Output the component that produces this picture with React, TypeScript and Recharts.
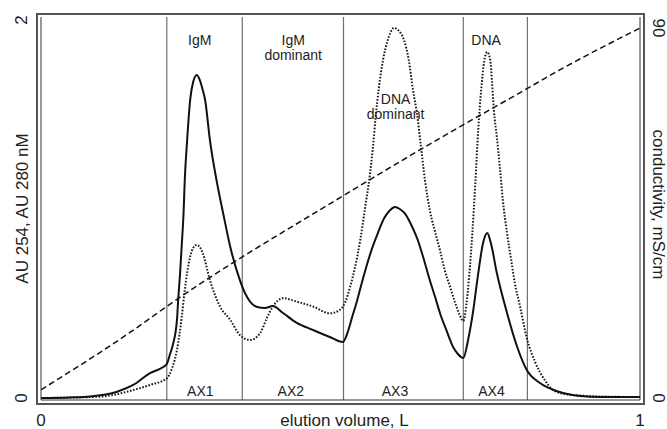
import React from 'react';
import { ComposedChart, Line, Scatter, XAxis, YAxis, ReferenceLine } from 'recharts';

// ---- data (elution volume in L, absorbance in AU, conductivity in mS/cm) ----
const au280: [number, number][] = [
  [0, 0], [0.048, 0.003], [0.082, 0.008], [0.127, 0.033], [0.154, 0.069],
  [0.182, 0.132], [0.204, 0.164], [0.21, 0.18], [0.215, 0.228], [0.22, 0.28],
  [0.227, 0.413], [0.229, 0.519], [0.232, 0.651], [0.235, 0.81], [0.238, 0.979],
  [0.24, 1.153], [0.244, 1.365], [0.249, 1.577], [0.254, 1.672], [0.26, 1.709],
  [0.265, 1.683], [0.27, 1.63], [0.274, 1.577], [0.282, 1.365], [0.293, 1.153],
  [0.304, 0.979], [0.316, 0.799], [0.332, 0.624], [0.344, 0.534], [0.361, 0.481],
  [0.374, 0.476], [0.387, 0.487], [0.404, 0.45], [0.427, 0.397], [0.454, 0.36],
  [0.482, 0.323], [0.504, 0.296], [0.511, 0.339], [0.519, 0.423], [0.528, 0.519],
  [0.536, 0.614], [0.544, 0.704], [0.553, 0.794], [0.563, 0.878], [0.573, 0.952],
  [0.583, 0.995], [0.591, 1.011], [0.599, 1.0], [0.608, 0.974], [0.619, 0.91],
  [0.629, 0.836], [0.638, 0.746], [0.649, 0.624], [0.658, 0.534], [0.666, 0.45],
  [0.678, 0.349], [0.688, 0.27], [0.696, 0.233], [0.705, 0.212], [0.713, 0.307],
  [0.721, 0.45], [0.73, 0.661], [0.738, 0.82], [0.745, 0.873], [0.751, 0.82],
  [0.761, 0.661], [0.778, 0.45], [0.795, 0.27], [0.811, 0.148], [0.833, 0.079],
  [0.866, 0.032], [0.9, 0.011], [0.933, 0.005], [1.0, 0.005],
];

const au254: [number, number][] = [
  [0, 0], [0.098, 0.007], [0.154, 0.042], [0.182, 0.069], [0.21, 0.104],
  [0.219, 0.159], [0.227, 0.254], [0.235, 0.43], [0.24, 0.571], [0.249, 0.748],
  [0.254, 0.794], [0.26, 0.81], [0.265, 0.799], [0.27, 0.767], [0.282, 0.624],
  [0.299, 0.483], [0.316, 0.413], [0.332, 0.333], [0.349, 0.307], [0.366, 0.344],
  [0.377, 0.423], [0.387, 0.483], [0.404, 0.528], [0.427, 0.51], [0.455, 0.483],
  [0.482, 0.448], [0.499, 0.466], [0.508, 0.508], [0.516, 0.587], [0.524, 0.688],
  [0.533, 0.836], [0.541, 1.005], [0.549, 1.18], [0.554, 1.323], [0.559, 1.497],
  [0.564, 1.64], [0.571, 1.788], [0.578, 1.884], [0.583, 1.931], [0.589, 1.958],
  [0.596, 1.947], [0.606, 1.894], [0.614, 1.788], [0.621, 1.63], [0.628, 1.497],
  [0.634, 1.339], [0.641, 1.153], [0.649, 0.995], [0.658, 0.878], [0.666, 0.783],
  [0.674, 0.677], [0.683, 0.587], [0.691, 0.508], [0.699, 0.439], [0.705, 0.407],
  [0.71, 0.492], [0.715, 0.651], [0.72, 0.868], [0.725, 1.132], [0.73, 1.423],
  [0.735, 1.635], [0.74, 1.783], [0.745, 1.831], [0.75, 1.788], [0.753, 1.672],
  [0.756, 1.524], [0.761, 1.381], [0.766, 1.222], [0.771, 1.048], [0.778, 0.873],
  [0.785, 0.73], [0.791, 0.608], [0.8, 0.481], [0.811, 0.317], [0.825, 0.19],
  [0.841, 0.095], [0.855, 0.042], [0.875, 0.021], [0.9, 0.013], [0.933, 0.008],
  [1.0, 0.005],
];

const conductivity: [number, number][] = [
  [0, 2.0], [0.149, 16.0], [0.22, 23.3], [0.5, 48.8], [0.666, 63.2],
  [0.8, 74.3], [0.866, 79.8], [1.0, 90],
];

const fractionBounds = [0.21, 0.336, 0.505, 0.705, 0.812];
const volumeTicks = [0, 1];
const auTicks = [0, 2];
const condTicks = [0, 90];

const peakLabels = [
  { x: 0.265, y: 1.87, text: 'IgM' },
  { x: 0.421, y: 1.868, text: 'IgM' },
  { x: 0.421, y: 1.79, text: 'dominant' },
  { x: 0.592, y: 1.556, text: 'DNA' },
  { x: 0.592, y: 1.478, text: 'dominant' },
  { x: 0.743, y: 1.868, text: 'DNA' },
];
const fractionLabels = [
  { x: 0.266, y: 0.013, text: 'AX1' },
  { x: 0.417, y: 0.013, text: 'AX2' },
  { x: 0.591, y: 0.013, text: 'AX3' },
  { x: 0.752, y: 0.013, text: 'AX4' },
];

// ---- layout / style ----
const W = 667;
const H = 429;
const FONT = '"Liberation Sans", Arial, Helvetica, sans-serif';
const TXT = '#222';
const FRAME = '#333';
const AXIS_FS = 17;
const NOTE_FS = 14;
const LEFT_TEXT_X = 22;
const RIGHT_TEXT_X = 658;
const BOTTOM_BASELINE = 425.5;

const toRows = (pts: [number, number][]) => pts.map(([x, y]) => ({ x, y }));

const LeftTick = (props: any) => {
  const { y, payload } = props;
  return (
    <text x={LEFT_TEXT_X} y={y} transform={`rotate(-90 ${LEFT_TEXT_X} ${y})`} textAnchor="middle"
      dominantBaseline="central" fontSize={AXIS_FS} fill={TXT} fontFamily={FONT}>{payload.value}</text>
  );
};
const RightTick = (props: any) => {
  const { y, payload } = props;
  return (
    <text x={RIGHT_TEXT_X} y={y} transform={`rotate(90 ${RIGHT_TEXT_X} ${y})`} textAnchor="middle"
      dominantBaseline="central" fontSize={AXIS_FS} fill={TXT} fontFamily={FONT}>{payload.value}</text>
  );
};
const BottomTick = (props: any) => {
  const { x, payload } = props;
  return (
    <text x={x} y={BOTTOM_BASELINE} textAnchor="middle" fontSize={AXIS_FS} fill={TXT} fontFamily={FONT}>{payload.value}</text>
  );
};

const LeftTitle = (props: any) => {
  const vb = props.viewBox || { y: 17, height: 383 };
  const cy = vb.y + vb.height / 2;
  return (
    <text x={LEFT_TEXT_X} y={cy} transform={`rotate(-90 ${LEFT_TEXT_X} ${cy})`} textAnchor="middle"
      dominantBaseline="central" fontSize={AXIS_FS} fill={TXT} fontFamily={FONT}>AU 254, AU 280 nM</text>
  );
};
const RightTitle = (props: any) => {
  const vb = props.viewBox || { y: 17, height: 383 };
  const cy = vb.y + vb.height / 2 - 4;
  return (
    <text x={RIGHT_TEXT_X} y={cy} transform={`rotate(90 ${RIGHT_TEXT_X} ${cy})`} textAnchor="middle"
      dominantBaseline="central" fontSize={AXIS_FS} fill={TXT} fontFamily={FONT}>conductivity, mS/cm</text>
  );
};
const BottomTitle = (props: any) => {
  const vb = props.viewBox || { x: 41, width: 599 };
  const cx = vb.x + vb.width / 2 + 4;
  return (
    <text x={cx} y={BOTTOM_BASELINE} textAnchor="middle" fontSize={AXIS_FS} fill={TXT} fontFamily={FONT}>elution volume, L</text>
  );
};

const NoteShape = (props: any) => {
  const { cx, cy, payload } = props;
  return (
    <text x={cx} y={cy} textAnchor="middle" fontSize={NOTE_FS} fill={TXT} fontFamily={FONT}>{payload.text}</text>
  );
};

export default function App() {
  return (
    <div style={{ position: 'absolute', left: 0, top: 0, width: W, height: H, background: '#fff' }}>
      <ComposedChart width={W} height={H} margin={{ top: 17, right: 0, bottom: 0, left: 11 }}>
        <XAxis xAxisId="b" type="number" dataKey="x" domain={[0, 1]} ticks={volumeTicks} allowDataOverflow
          orientation="bottom" height={29} stroke={FRAME} tickLine={false} tick={<BottomTick />}
          label={<BottomTitle />} />
        <XAxis xAxisId="t" type="number" dataKey="x" domain={[0, 1]} allowDataOverflow
          orientation="top" height={0} stroke={FRAME} tickLine={false} tick={false} />
        <YAxis yAxisId="l" type="number" domain={[-0.0106, 2.0159]} ticks={auTicks} allowDataOverflow
          width={30} stroke={FRAME} tickLine={false} tick={<LeftTick />} label={<LeftTitle />} />
        <YAxis yAxisId="r" type="number" orientation="right" domain={[-0.486, 92.68]} ticks={condTicks} allowDataOverflow
          width={27} stroke={FRAME} tickLine={false} tick={<RightTick />} label={<RightTitle />} />

        {fractionBounds.map((b) => (
          <ReferenceLine key={b} xAxisId="b" yAxisId="l" x={b} stroke="#707070" strokeWidth={1.2} />
        ))}

        <Line xAxisId="b" yAxisId="r" data={toRows(conductivity)} dataKey="y" type="monotone"
          stroke="#111" strokeWidth={1.5} strokeDasharray="6 3.5" dot={false} isAnimationActive={false} />
        <Line xAxisId="b" yAxisId="l" data={toRows(au254)} dataKey="y" type="monotone"
          stroke="#1a1a1a" strokeWidth={2} strokeDasharray="1.6 1.6" dot={false} isAnimationActive={false} />
        <Line xAxisId="b" yAxisId="l" data={toRows(au280)} dataKey="y" type="monotone"
          stroke="#111" strokeWidth={2} dot={false} isAnimationActive={false} />

        <Scatter xAxisId="b" yAxisId="l" data={peakLabels} dataKey="y" shape={<NoteShape />} isAnimationActive={false} />
        <Scatter xAxisId="b" yAxisId="l" data={fractionLabels} dataKey="y" shape={<NoteShape />} isAnimationActive={false} />
      </ComposedChart>
      <div style={{ position: 'absolute', left: 36, top: 13, width: 609, height: 392, border: '2px solid #555', boxSizing: 'border-box', pointerEvents: 'none' }} />
    </div>
  );
}
